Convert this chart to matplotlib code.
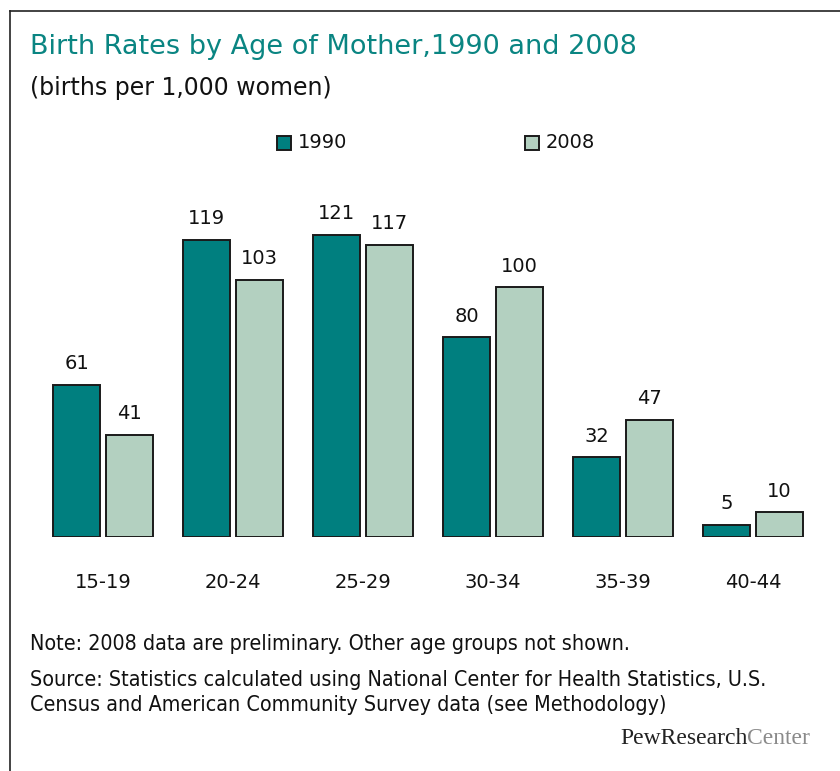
import numpy as np
import matplotlib.pyplot as plt
from matplotlib.lines import Line2D

# Data
groups = ["15-19", "20-24", "25-29", "30-34", "35-39", "40-44"]
rates_1990 = [61, 119, 121, 80, 32, 5]
rates_2008 = [41, 103, 117, 100, 47, 10]
series_names = ["1990", "2008"]

teal = "#007f7f"
sage = "#b3d0c0"
title_col = "#0a8582"

W, H = 840, 771
fig = plt.figure(figsize=(W / 100, H / 100), dpi=100)

def fx(px): return px / W
def fy(py): return 1 - py / H

# frame (left + top edges only)
fig.add_artist(Line2D([fx(9.5), fx(9.5)], [fy(10.5), 0], color="#222222", lw=1.2))
fig.add_artist(Line2D([fx(9.5), 1], [fy(10.5), fy(10.5)], color="#222222", lw=1.2))

# axes: 6 groups of 130px, bottom at y=537, 2.5px per unit
ymax = 140
ax = fig.add_axes([fx(38), fy(537), fx(780), ymax * 2.5 / H])
x = np.arange(len(groups))
bw = 47 / 130
off = 53 / 130 / 2
b1 = ax.bar(x - off, rates_1990, bw, color=teal, edgecolor="#1a1a1a", linewidth=1.4)
b2 = ax.bar(x + off, rates_2008, bw, color=sage, edgecolor="#1a1a1a", linewidth=1.4)
ax.set_xlim(-0.5, len(groups) - 0.5)
ax.set_ylim(0, ymax)
ax.axis("off")

for bars, vals in ((b1, rates_1990), (b2, rates_2008)):
    for r, v in zip(bars, vals):
        ax.annotate(str(v), (r.get_x() + r.get_width() / 2, v), xytext=(0, 8),
                    textcoords="offset points", ha="center", va="bottom",
                    fontsize=14, color="#111111")

for xi, g in zip(x, groups):
    ax.annotate(g, (xi, 0), xytext=(0, -46 * 0.72), textcoords="offset points",
                ha="center", va="center", fontsize=14, color="#111111")

# titles
fig.text(fx(30), fy(47), "Birth Rates by Age of Mother,1990 and 2008", fontsize=19.5,
         color=title_col, va="center", ha="left")
fig.text(fx(30), fy(88), "(births per 1,000 women)", fontsize=17, color="#111111",
         va="center", ha="left")

# legend
for (px, name, col) in ((277, series_names[0], teal), (525, series_names[1], sage)):
    fig.add_artist(plt.Rectangle((fx(px), fy(150)), fx(14), 14 / H, facecolor=col,
                                 edgecolor="#1a1a1a", lw=1.4))
    fig.text(fx(px + 21), fy(143), name, fontsize=14, color="#111111", va="center", ha="left")

# notes
note_font = dict(family="DejaVu Sans", fontstretch="condensed", fontsize=15.4, color="#111111",
                 va="center", ha="left")
fig.text(fx(30), fy(644), "Note: 2008 data are preliminary. Other age groups not shown.", **note_font)
fig.text(fx(30), fy(680), "Source: Statistics calculated using National Center for Health Statistics, U.S.",
         **note_font)
fig.text(fx(30), fy(705), "Census and American Community Survey data (see Methodology)", **note_font)

# logo
t = fig.text(fx(620), fy(738), "PewResearch", family="Liberation Serif", fontsize=17,
             color="#222222", va="center", ha="left")
fig.canvas.draw()
bb = t.get_window_extent()
fig.text(bb.x1 / W, fy(738), "Center", family="Liberation Serif", fontsize=17,
         color="#8a8a8a", va="center", ha="left")

fig.savefig("out.png", dpi=100)
